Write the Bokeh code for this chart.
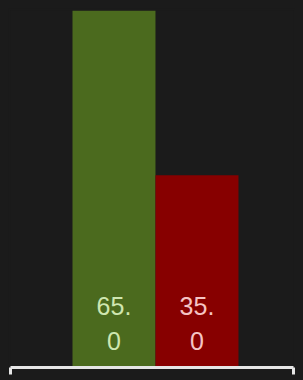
from bokeh.plotting import figure
from bokeh.models import ColumnDataSource, Range1d, FixedTicker, CustomLabelingPolicy
from bokeh.embed import file_html
from bokeh.resources import INLINE

# data
positions = [0, 1]
values = [65.0, 35.0]
labels = ["65.\n0", "35.\n0"]
bar_colors = ["#4b6a1e", "#870000"]
label_colors = ["#cfe6b0", "#f5c4c4"]

BG = "#1b1b1b"

src = ColumnDataSource(dict(x=positions, top=values, label=labels,
                            color=bar_colors, lcolor=label_colors))

x_start, x_end = -1.247, 2.163
p = figure(frame_width=283, frame_height=357, output_backend="svg",
           toolbar_location=None, y_axis_location=None,
           x_range=Range1d(x_start, x_end), y_range=Range1d(0, 65),
           min_border_left=2, min_border_right=2, min_border_top=2,
           min_border_bottom=0)
p.background_fill_color = BG
p.border_fill_color = BG
p.outline_line_color = None
p.grid.visible = False

p.vbar(x="x", top="top", width=1.0, bottom=0, color="color", line_color=None, source=src)
p.text(x="x", y=0, text="label", text_color="lcolor", text_align="center",
       text_baseline="bottom", text_font_size="25px", text_line_height=1.28,
       y_offset=-12, source=src)

ax = p.xaxis[0]
ax.ticker = FixedTicker(ticks=[x_start, x_end])
ax.axis_line_color = "#e6e6e6"
ax.axis_line_width = 3
ax.major_tick_line_color = "#e6e6e6"
ax.major_tick_line_width = 3
ax.major_tick_out = 7
ax.major_tick_in = 0
ax.minor_tick_line_color = None
ax.major_label_policy = CustomLabelingPolicy(
    code="for (const i of Array.from(indices)) indices.unset(i); return indices")
ax.major_label_standoff = 0

html = file_html(p, INLINE)
style = "<style>html,body{background:%s;margin:0;padding:0}body{margin:8px}</style>" % BG
html = html.replace("</head>", style + "</head>", 1)
open("out.html", "w").write(html)
